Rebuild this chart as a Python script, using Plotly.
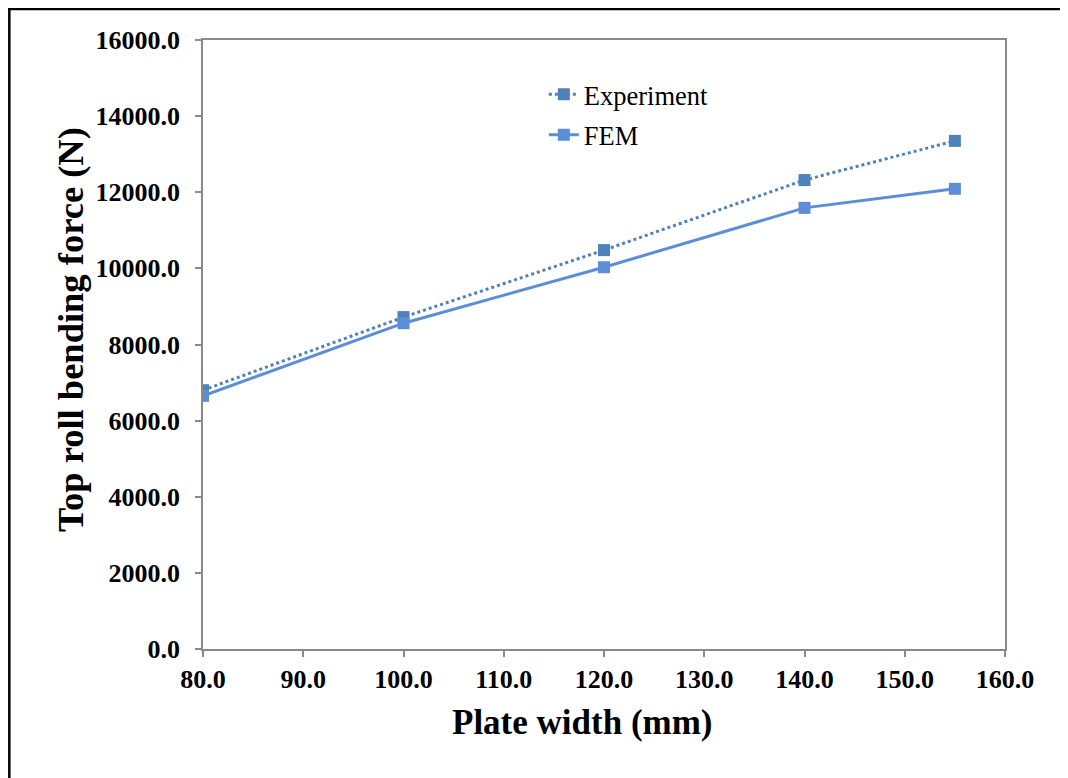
import plotly.graph_objects as go

plate_width = [80, 100, 120, 140, 155]
experiment = [6800, 8720, 10480, 12320, 13350]
fem = [6650, 8560, 10030, 11590, 12090]

x_ticks = [80, 90, 100, 110, 120, 130, 140, 150, 160]
y_ticks = [0, 2000, 4000, 6000, 8000, 10000, 12000, 14000, 16000]

FONT = "Liberation Serif"

fig = go.Figure()
fig.add_trace(go.Scatter(
    x=plate_width, y=experiment, name="Experiment", mode="lines+markers",
    legendgroup="exp",
    line=dict(color="#4F81BD", width=3, dash="dot"),
    marker=dict(symbol="square", size=12, color="#4F81BD"),
))
fig.add_trace(go.Scatter(
    x=plate_width, y=fem, name="FEM", mode="lines+markers",
    legendgroup="fem",
    line=dict(color="#5B8ED6", width=3),
    marker=dict(symbol="square", size=12, color="#5B8ED6"),
))

axis_common = dict(
    showgrid=False, zeroline=False, showline=True, linecolor="#898989",
    linewidth=1.5, mirror=True, ticks="outside", ticklen=6, tickcolor="#898989",
    tickwidth=1.5,
    tickfont=dict(family=FONT, size=26, color="black", weight="bold"),
)

fig.update_xaxes(
    range=[80, 160], tickvals=x_ticks, ticktext=[f"{v:.1f}" for v in x_ticks],
    **axis_common,
)
fig.update_yaxes(
    range=[0, 16000], tickvals=y_ticks, ticktext=[f"{v:.1f}" for v in y_ticks],
    ticklabelstandoff=10,
    **axis_common,
)

fig.update_layout(
    width=1060, height=770,
    margin=dict(l=195, r=63, t=32, b=129),
    paper_bgcolor="white", plot_bgcolor="white",
    showlegend=True,
    legend=dict(
        x=0.425, y=0.95, xanchor="left", yanchor="top",
        font=dict(family=FONT, size=26.5, color="black"),
        bgcolor="rgba(0,0,0,0)", itemwidth=30, tracegroupgap=3,
    ),
    annotations=[
        dict(text="<b>Plate width (mm)</b>", xref="paper", yref="paper",
             x=0.4726, y=-0.1199, xanchor="center", yanchor="middle", showarrow=False,
             font=dict(family=FONT, size=35, color="black")),
        dict(text="<b>Top roll bending force (N)</b>", xref="paper", yref="paper",
             x=-0.1658, y=0.5238, xanchor="center", yanchor="middle", showarrow=False,
             textangle=-90, font=dict(family=FONT, size=36.5, color="black")),
    ],
    shapes=[
        dict(type="line", xref="paper", yref="paper", x0=-0.245, x1=1.2, y0=(641 - 1) / 609, y1=(641 - 1) / 609,
             line=dict(color="black", width=2.5)),
        dict(type="line", xref="paper", yref="paper", x0=-0.2415, x1=-0.2415, y0=(641 - 1) / 609, y1=-0.3,
             line=dict(color="black", width=2.5)),
    ],
)

fig.write_html("out.html")
